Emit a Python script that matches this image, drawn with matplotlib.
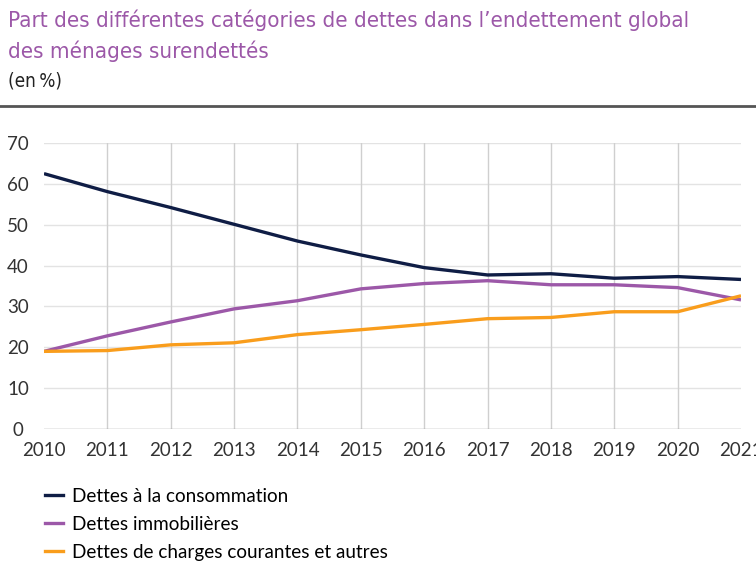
import matplotlib
matplotlib.use("Agg")
import matplotlib.pyplot as plt
from matplotlib.lines import Line2D

years = [2010, 2011, 2012, 2013, 2014, 2015, 2016, 2017, 2018, 2019, 2020, 2021]
consommation = [62.5, 58.1, 54.2, 50.1, 46.0, 42.6, 39.5, 37.7, 38.0, 36.9, 37.3, 36.6]
immobilieres = [19.0, 22.8, 26.2, 29.4, 31.4, 34.3, 35.6, 36.3, 35.3, 35.3, 34.6, 31.6]
charges = [19.0, 19.2, 20.6, 21.1, 23.1, 24.3, 25.6, 27.0, 27.3, 28.7, 28.7, 32.6]
series_labels = ["Dettes à la consommation", "Dettes immobilières",
                 "Dettes de charges courantes et autres"]
yticks = [0, 10, 20, 30, 40, 50, 60, 70]
title1 = "Part des différentes catégories de dettes dans l\u2019endettement global"
title2 = "des ménages surendettés"
unit = "(en\u2009%)"

colors = ["#0f1d45", "#9c58a8", "#f99d1c"]
font = "Lato"
W, H = 756, 568

fig = plt.figure(figsize=(7.56, 5.68), dpi=100)
ax = fig.add_axes([44/W, 1-429/H, (741-44)/W, (429-143)/H])

for vals, c in zip([consommation, immobilieres, charges], colors):
    ax.plot(years, vals, color=c, lw=2.4, solid_capstyle="butt", zorder=3)

ax.set_xlim(2010, 2021)
ax.set_ylim(0, 70)
ax.set_xticks(years)
ax.set_yticks(yticks)
ax.set_xticklabels([str(y) for y in years], fontsize=13.5, family=font, color="#333333")
ax.set_yticklabels([str(v) for v in yticks], fontsize=13.5, family=font, color="#333333",
                   ha="center")
ax.tick_params(axis="both", length=0)
ax.tick_params(axis="y", pad=26*72/100)
ax.tick_params(axis="x", pad=9)
for s in ax.spines.values():
    s.set_visible(False)
for y in yticks:
    if y == 0:
        ax.axhline(y, color="#999999", lw=1.0, zorder=2)
    else:
        ax.axhline(y, color="#e3e3e3", lw=1.0, zorder=1)
for x in years[1:-1]:
    ax.axvline(x, color="#cfcfcf", lw=1.0, zorder=1)

t1 = fig.text(8/W, 1-20/H, title1, fontsize=17, family="DejaVu Sans", stretch="condensed",
              color="#9c58a8", va="center", ha="left")
t2 = fig.text(8/W, 1-51/H, title2, fontsize=17, family="DejaVu Sans", stretch="condensed",
              color="#9c58a8", va="center", ha="left")
t3 = fig.text(8/W, 1-81/H, unit, fontsize=13, family="DejaVu Sans", stretch="condensed",
              color="#222222", va="center", ha="left")
fig.add_artist(Line2D([0, 1], [1-106/H, 1-106/H], color="#555555", lw=2.0))

# fit title widths to the reference
fig.canvas.draw()
r = fig.canvas.get_renderer()
w1 = t1.get_window_extent(r).width
scale = 675.0 / w1
for t in (t1, t2):
    t.set_fontsize(17 * scale)
w3 = t3.get_window_extent(r).width
t3.set_fontsize(13 * 54.0 / w3)

handles = [Line2D([0], [0], color=c, lw=2.4) for c in colors]
fig.legend(handles, series_labels, loc="upper left", bbox_to_anchor=(45/W, 1-488/H),
           frameon=False, prop={"family": font, "size": 13.6}, handlelength=0.95,
           handletextpad=0.48, labelspacing=0.58, borderaxespad=0, borderpad=0)

fig.savefig("out.png", dpi=100)
